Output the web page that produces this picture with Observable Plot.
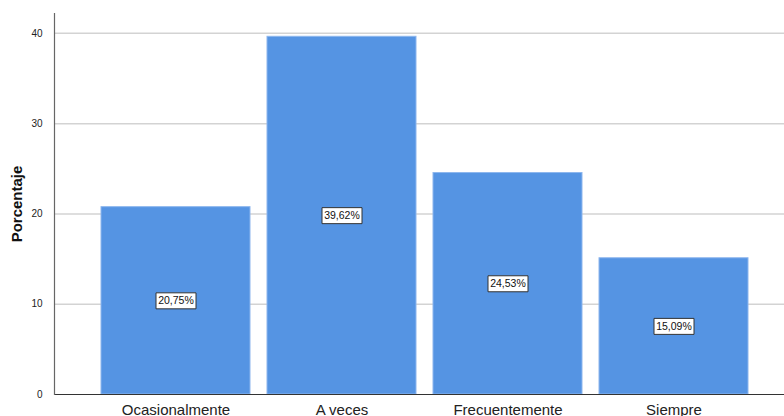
<!DOCTYPE html>
<html>
<head>
<meta charset="utf-8">
<script src="https://cdn.jsdelivr.net/npm/d3@7"></script>
<script src="https://cdn.jsdelivr.net/npm/@observablehq/plot@0.6"></script>
<style>
  html, body { margin: 0; padding: 0; background: #fff; }
  #chart svg { display: block; }
</style>
</head>
<body>
<div id="chart"></div>
<script>
const categories = ["Ocasionalmente", "A veces", "Frecuentemente", "Siempre"];
const percentages = [20.75, 39.62, 24.53, 15.09];
const yTicks = [0, 10, 20, 30, 40];
const yLabel = "Porcentaje";

const data = categories.map((c, i) => ({
  category: c,
  value: percentages[i],
  label: percentages[i].toFixed(2).replace(".", ",") + "%"
}));

const boxSymbol = {
  draw(context) {
    context.moveTo(-20, -8);
    context.lineTo(20, -8);
    context.lineTo(20, 8);
    context.lineTo(-20, 8);
    context.closePath();
  }
};

const chart = Plot.plot({
  width: 784,
  height: 416,
  marginLeft: 54,
  marginRight: 0,
  marginTop: 13,
  marginBottom: 22,
  style: { fontFamily: "'Liberation Sans', Arial, sans-serif", color: "#222", background: "#fff" },
  x: {
    type: "band",
    domain: categories,
    range: [54, 796],
    paddingInner: 0.1,
    paddingOuter: 0.2755,
    align: 0.5
  },
  y: { domain: [0, 42.2] },
  marks: [
    Plot.gridY(yTicks.filter(d => d > 0), { stroke: "#d3d3d3", strokeOpacity: 1, strokeWidth: 1.5 }),
    Plot.barY(data, {
      x: "category",
      y: "value",
      fill: "#5594e3",
      stroke: "#8db6ee",
      strokeWidth: 1
    }),
    Plot.ruleY([0], { stroke: "#333", strokeWidth: 1.2 }),
    Plot.frame({ anchor: "left", stroke: "#666", strokeWidth: 1.2 }),
    Plot.axisY({
      ticks: yTicks,
      tickSize: 0,
      tickPadding: 12,
      fontSize: 10,
      label: null
    }),
    Plot.axisX({
      tickSize: 0,
      tickPadding: 10,
      fontSize: 15,
      fill: "#222",
      label: null
    }),
    Plot.text([yLabel], {
      frameAnchor: "left",
      textAnchor: "middle",
      rotate: -90,
      dx: -37,
      fontSize: 15,
      fontWeight: "bold",
      fill: "#111"
    }),
    Plot.dot(data, {
      x: "category",
      y: d => d.value / 2,
      symbol: boxSymbol,
      fill: "#fff",
      stroke: "#333",
      strokeWidth: 1
    }),
    Plot.text(data, {
      x: "category",
      y: d => d.value / 2,
      text: "label",
      fontSize: 10.5,
      fill: "#111"
    })
  ]
});

document.getElementById("chart").appendChild(chart);
</script>
</body>
</html>
